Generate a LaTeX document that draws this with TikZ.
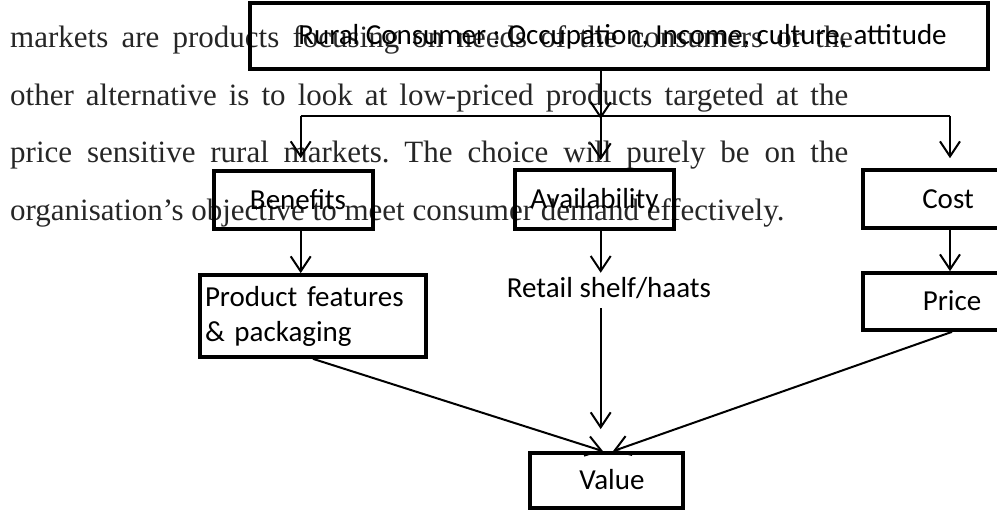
\documentclass[tikz,border=0pt]{standalone}
\usepackage{fontspec}
\setmainfont{Liberation Serif}
\newfontfamily\diagfont{Carlito}
\usetikzlibrary{arrows.meta}
\definecolor{bodytext}{RGB}{38,38,38}
\frenchspacing

\begin{document}
\begin{tikzpicture}[x=1pt,y=-1pt,
  para/.style={anchor=base west, inner sep=0pt, text=bodytext,
    font=\fontsize{31}{31}\selectfont},
  box/.style={draw, line width=3.7pt, inner sep=0pt,
    font=\diagfont\fontsize{29}{35}\selectfont,
    text height=18pt, text depth=0pt},
  conn/.style={line width=2pt, -{Straight Barb[length=15pt,width=20pt]}},
  link/.style={line width=2pt}
]
\useasboundingbox (0,0) rectangle (997,511);
\clip (0,0) rectangle (997,511);

% running text of the page
\node[para] (l1) at (10,47.5) {\makebox[843pt][s]{markets are products focusing on needs of the consumers or the}};
\node[para] (l2) at (10,105.5) {\makebox[838pt][s]{other alternative is to look at low-priced products targeted at the}};
\node[para] (l3) at (10,162.5) {\makebox[838pt][s]{price sensitive rural markets. The choice will purely be on the}};
\node[para] (l4) at (10,220.5) {organisation’s objective to meet consumer demand effectively.};

% boxes
\node[box, minimum width=738pt, minimum height=66pt] (top) at (619,36)
  {\hspace*{7pt}Rural Consumer : Occupation, Income, culture, attitude};
\node[box, minimum width=159pt, minimum height=58pt] (ben) at (293.5,200) {\hspace*{9pt}Benefits};
\node[box, minimum width=159pt, minimum height=59pt] (avail) at (594.5,199.5) {Availability};
\node[box, minimum width=170pt, minimum height=58pt] (cost) at (948,199) {Cost};
\node[draw, line width=3.7pt, minimum width=226pt, minimum height=82pt,
  inner xsep=5pt, inner ysep=0pt, text width=216pt, align=left,
  font=\diagfont\fontsize{29}{35}\selectfont] (prod) at (313,316)
  {Product features\\\& packaging};
\node[anchor=base, inner sep=0pt, text height=24pt, text depth=11pt,
  font=\diagfont\fontsize{29}{35}\selectfont] (retail) at (609,297) {Retail shelf/haats};
\node[box, minimum width=170pt, minimum height=57pt] (price) at (948,301.5) {\hspace*{8pt}Price};
\node[box, minimum width=153pt, minimum height=55pt] (value) at (606.5,480.5) {\hspace*{11pt}Value};

% branching points below the top box
\coordinate (jL) at (300.7,116);
\coordinate (jM) at (600.7,116);
\coordinate (jR) at (950,116);

% connectors
\draw[conn] (top.south -| jM) -- ([yshift=-3pt]jM);
\draw[link] (jL) -- (jR);
\draw[conn, shorten >=11pt] (jL) -- (ben.north -| jL);
\draw[conn, shorten >=8pt] (jM) -- (avail.north -| jM);
\draw[conn, shorten >=10pt] (jR) -- (cost.north -| jR);
\draw[conn] (ben.south -| jL) -- (prod.north -| jL);
\draw[conn] (avail.south -| jM) -- (retail.north -| jM);
\draw[conn] (cost.south -| jR) -- (price.north -| jR);
\draw[conn, shorten >=22pt] (retail.south -| jM) -- (value.north -| jM);
\draw[conn] (prod.south) -- ([xshift=-3.5pt]value.north);
\draw[conn] ([xshift=4pt]price.south) -- ([xshift=6.5pt]value.north);
\end{tikzpicture}
\end{document}
